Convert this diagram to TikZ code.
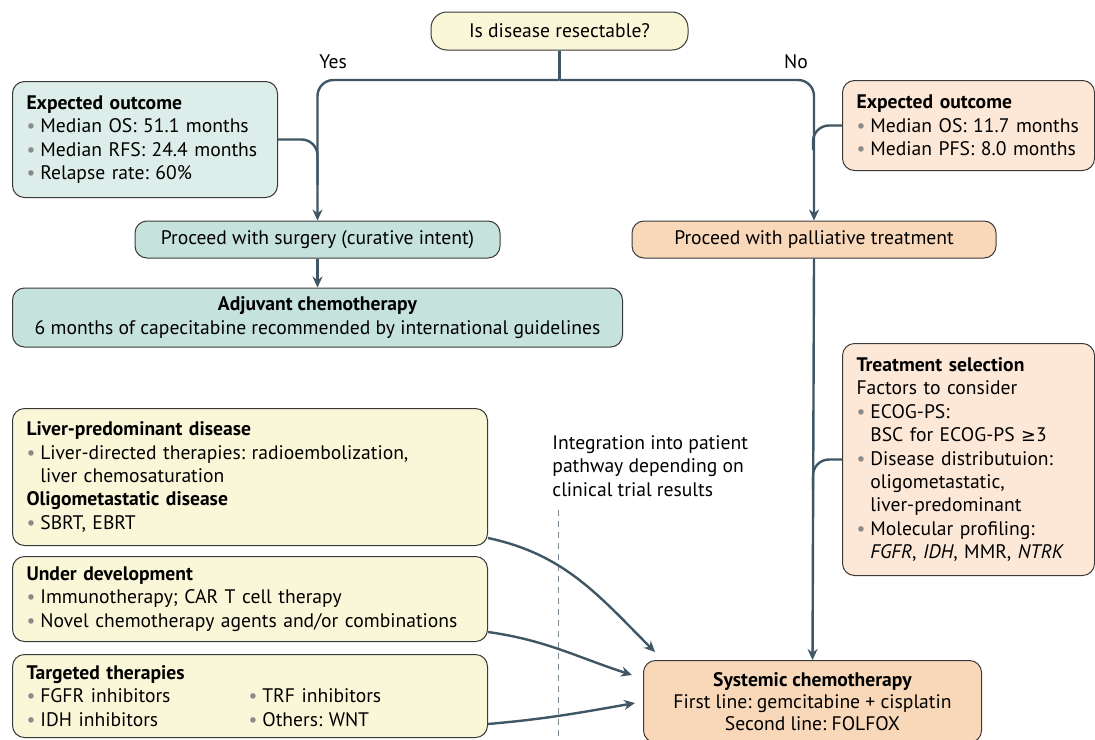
\documentclass[tikz,border=0pt]{standalone}
\usepackage{fontspec}
\setmainfont{PT Sans}
\newfontfamily\symf[Scale=0.9]{DejaVu Sans}
\usetikzlibrary{positioning, arrows.meta}
\frenchspacing

\definecolor{linec}{HTML}{3F5664}
\definecolor{edgec}{HTML}{3A3A3A}
\definecolor{yelfill}{HTML}{FAF7D9}
\definecolor{tealfill}{HTML}{C5E2DD}
\definecolor{tealpale}{HTML}{DDEDEA}
\definecolor{peachfill}{HTML}{F9D8B9}
\definecolor{peachpale}{HTML}{FDE8D8}
\definecolor{bulgray}{HTML}{8A8A8A}
\definecolor{dashc}{HTML}{7A8A94}

\newcommand{\bul}{{\color{bulgray}\textbullet}\hspace{2.5pt}}
\newcommand{\ind}{\phantom{\bul}}

\tikzset{
x=0.5pt, y=0.5pt, % one unit is one pixel of the sketch
node distance=10pt, % default gap for relative placement
every node/.style={font=\fontsize{9.8}{11.7}\selectfont},
box/.style={draw=edgec, line width=0.5pt, rounded corners=6pt, inner xsep=7pt, inner ysep=0pt}, % every framed block
leftbox/.style={box, anchor=north west, align=left}, % blocks with a heading and bullets
link/.style={draw=linec, line width=1.2pt}, % plain connector
arr/.style={link, -{Stealth[length=5.5pt, width=5pt]}}, % connector with a head
divider/.style={draw=dashc, line width=0.5pt, dash pattern=on 3pt off 2.5pt},
}

\begin{document}
\begin{tikzpicture}
    \useasboundingbox (0,0) rectangle (1095,-739);

    % decision and outcomes
    \node[box, fill=yelfill, rounded corners=8pt, minimum width=128.5pt, minimum height=19pt] (resect) at (559.5,-31) {Is disease resectable?};
    \node[leftbox, fill=tealpale, minimum width=132.5pt, text width=118.5pt, minimum height=58pt] (outL) at (12,-81)
        {\textbf{Expected outcome}\\
         \bul Median OS: 51.1 months\\
         \bul Median RFS: 24.4 months\\
         \bul Relapse rate: 60\%};
    \node[leftbox, fill=peachpale, minimum width=126pt, text width=112pt, minimum height=45pt] (outR) at (842,-80)
        {\textbf{Expected outcome}\\
         \bul Median OS: 11.7 months\\
         \bul Median PFS: 8.0 months};

    % the two pathways
    \node[box, fill=tealfill, minimum width=182.5pt, minimum height=18.5pt] (surg) at (317.5,-239.5) {Proceed with surgery (curative intent)};
    \node[box, fill=tealfill, minimum width=305pt, minimum height=29.5pt, align=center, below=14.5pt of surg] (adj)
        {\textbf{Adjuvant chemotherapy}\\
         6 months of capecitabine recommended by international guidelines};
    \node[box, fill=peachfill, minimum width=182pt, minimum height=18.5pt, right=65.5pt of surg] (pall) {Proceed with palliative treatment};

    \node[leftbox, fill=peachpale, minimum width=126pt, text width=112pt, minimum height=116pt] (tsel) at (842,-343)
        {\textbf{Treatment selection}\\
         Factors to consider\\
         \bul ECOG-PS:\\
         \ind BSC for ECOG-PS {\symf ≥}3\\
         \bul Disease distributuion:\\
         \ind oligometastatic,\\
         \ind liver-predominant\\
         \bul Molecular profiling:\\
         \ind \textit{FGFR}, \textit{IDH}, MMR, \textit{NTRK}};

    \node[box, fill=peachfill, anchor=north west, minimum width=169pt, minimum height=41pt, align=center,
          font=\fontsize{9.8}{11}\selectfont] (sys) at (643,-660)
        {\textbf{Systemic chemotherapy}\\
         First line: gemcitabine + cisplatin\\
         Second line: FOLFOX};

    % options under investigation
    \node[leftbox, fill=yelfill, minimum width=237.5pt, text width=223.5pt, minimum height=68.5pt] (liver) at (12,-408)
        {\textbf{Liver-predominant disease}\\
         \bul Liver-directed therapies: radioembolization,\\
         \ind liver chemosaturation\\
         \textbf{Oligometastatic disease}\\
         \bul SBRT, EBRT};
    \node[leftbox, fill=yelfill, minimum width=237.5pt, text width=223.5pt, minimum height=42.5pt, below right=5pt and 0pt of liver.south west] (devel)
        {\textbf{Under development}\\
         \bul Immunotherapy; CAR T cell therapy\\
         \bul Novel chemotherapy agents and/or combinations};
    \node[leftbox, fill=yelfill, minimum width=237.5pt, text width=223.5pt, minimum height=41.5pt, below right=6pt and 0pt of devel.south west] (target)
        {\textbf{Targeted therapies}\\
         \makebox[111pt][l]{\bul FGFR inhibitors}\bul TRF inhibitors\\
         \makebox[111pt][l]{\bul IDH inhibitors}\bul Others: WNT};

    % labels
    \node (yes) at (333,-62) {Yes};
    \node (no) at (796,-62) {No};
    \node[anchor=north west, align=left, inner sep=0pt] (integ) at (552,-435)
        {Integration into patient\\ pathway depending on\\ clinical trial results};

    \coordinate (fork) at (559.5,-80);
    \coordinate (ljoin) at (317.5,-185);
    \coordinate (rjoin) at (813,-150);
    \coordinate (tjoin) at (813,-490);
    \coordinate (dtop) at (558,-510);
    \coordinate (dbot) at (558,-739);
    \coordinate (in1) at (655,-652);
    \coordinate (in2) at (632,-675);
    \coordinate (in3) at (635,-703);

    \draw[link] (resect.south) -- (fork);
    \draw[arr, rounded corners=8pt] (fork) -| (surg.north);
    \draw[arr, rounded corners=8pt] (fork) -| (pall.north);
    \draw[link, rounded corners=8pt] (outL.east) -| (ljoin);
    \draw[link, rounded corners=8pt] (outR.west) -| (rjoin);
    \draw[link, rounded corners=8pt] (tsel.west) -| (tjoin);
    \draw[arr] (surg.south) -- (adj.north);
    \draw[arr] (pall.south) -- (sys.north);

    \draw[divider] (dtop) -- (dbot);
    \draw[arr] ([yshift=4pt]liver.south east) to[out=-12, in=135] (in1);
    \draw[arr] ([yshift=5pt]devel.south east) to[out=-8, in=162] (in2);
    \draw[arr] ([yshift=7pt]target.south east) to[out=5, in=190] (in3);
\end{tikzpicture}
\end{document}
